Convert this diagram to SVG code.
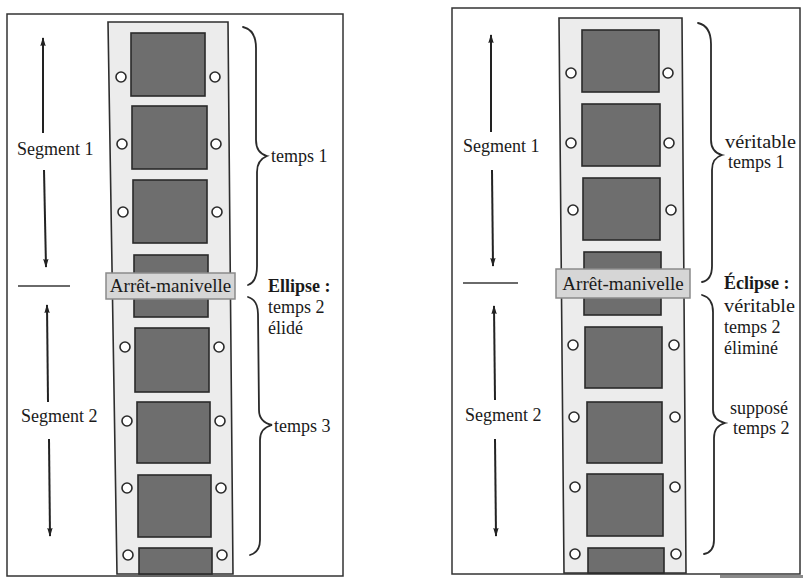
<svg xmlns="http://www.w3.org/2000/svg" width="803" height="578" viewBox="0 0 803 578">
<defs>
<style>
.panel{fill:#fff;stroke:#333;stroke-width:1.5}
.strip{fill:#ececec;stroke:#2e2e2e;stroke-width:1.6}
.frame{fill:#6e6e6e;stroke:#2a2a2a;stroke-width:1.6}
.hole{fill:#fff;stroke:#2a2a2a;stroke-width:1.6}
.lbl{fill:#d6d6d6;stroke:#8a8a8a;stroke-width:1.5}
.brace{fill:none;stroke:#2a2a2a;stroke-width:1.8;stroke-linecap:round}
.arr{fill:none;stroke:#222;stroke-width:2}
.dash{stroke:#6a6a6a;stroke-width:2}
text{font-family:"Liberation Serif","Times New Roman",serif;fill:#1a1a1a;font-size:18px}
.b{font-weight:bold}
.lt{font-size:19px;text-anchor:middle}
</style>
<marker id="ah" viewBox="0 0 10 10" refX="9" refY="5" markerWidth="9" markerHeight="9" orient="auto" markerUnits="userSpaceOnUse">
<path d="M0,2 Q5,3.5 10,5 Q5,6.5 0,8 Q2,5 0,2 Z" fill="#222"/>
</marker>
</defs>
<rect width="803" height="578" fill="#fff"/>

<!-- LEFT PANEL -->
<g id="left-panel">
<rect class="panel" x="7" y="14" width="336" height="562"/>
</g>
<g id="left-strip">
<polygon class="strip" points="108,22 228,22 233,574 117,574"/>
<rect class="frame" x="131" y="33" width="74" height="63"/>
<rect class="frame" x="132" y="106" width="75" height="63"/>
<rect class="frame" x="133" y="180" width="74" height="63"/>
<rect class="frame" x="134" y="255" width="74" height="62"/>
<rect class="frame" x="135" y="328" width="74" height="64"/>
<rect class="frame" x="137" y="402" width="73" height="61"/>
<rect class="frame" x="138" y="475" width="73" height="62"/>
<rect class="frame" x="139" y="548" width="73" height="26"/>
<circle class="hole" cx="121" cy="77" r="5"/><circle class="hole" cx="215" cy="77" r="5"/>
<circle class="hole" cx="122" cy="144" r="5"/><circle class="hole" cx="216" cy="144" r="5"/>
<circle class="hole" cx="123" cy="212" r="5"/><circle class="hole" cx="217" cy="212" r="5"/>
<circle class="hole" cx="125" cy="347" r="5"/><circle class="hole" cx="219" cy="347" r="5"/>
<circle class="hole" cx="127" cy="421" r="5"/><circle class="hole" cx="220" cy="421" r="5"/>
<circle class="hole" cx="127" cy="488" r="5"/><circle class="hole" cx="221" cy="488" r="5"/>
<circle class="hole" cx="128" cy="555" r="5"/><circle class="hole" cx="222" cy="555" r="5"/>
</g>
<g id="left-label">
<rect class="lbl" x="106" y="273" width="129" height="26"/>
<text class="lt" x="170.5" y="292">Arrêt-manivelle</text>
</g>

<!-- RIGHT PANEL -->
<g id="right-panel">
<rect class="panel" x="452" y="8" width="348" height="566"/>
<rect x="720" y="575" width="83" height="3" fill="#8a8a8a"/>
</g>
<g id="right-strip">
<polygon class="strip" points="559,18 682,18 686,573 564,573"/>
<rect class="frame" x="582" y="30" width="77" height="62"/>
<rect class="frame" x="582" y="104" width="78" height="62"/>
<rect class="frame" x="583" y="178" width="77" height="62"/>
<rect class="frame" x="584" y="252" width="77" height="63"/>
<rect class="frame" x="585" y="327" width="77" height="61"/>
<rect class="frame" x="587" y="402" width="75" height="61"/>
<rect class="frame" x="587" y="474" width="76" height="62"/>
<rect class="frame" x="588" y="548" width="76" height="25"/>
<circle class="hole" cx="571" cy="73" r="5"/><circle class="hole" cx="668" cy="73" r="5"/>
<circle class="hole" cx="571" cy="143" r="5"/><circle class="hole" cx="669" cy="143" r="5"/>
<circle class="hole" cx="573" cy="210" r="5"/><circle class="hole" cx="671" cy="210" r="5"/>
<circle class="hole" cx="573" cy="345" r="5"/><circle class="hole" cx="674" cy="345" r="5"/>
<circle class="hole" cx="574" cy="417" r="5"/><circle class="hole" cx="675" cy="417" r="5"/>
<circle class="hole" cx="575" cy="487" r="5"/><circle class="hole" cx="675" cy="487" r="5"/>
<circle class="hole" cx="575" cy="554" r="5"/><circle class="hole" cx="676" cy="554" r="5"/>
</g>
<g id="right-label">
<rect class="lbl" x="556" y="269" width="134" height="29"/>
<text class="lt" x="623" y="290">Arrêt-manivelle</text>
</g>

<!-- CONNECTORS: arrows, dashes, braces -->
<g id="connectors">
<line class="arr" x1="43" y1="133" x2="43" y2="38" marker-end="url(#ah)"/>
<line class="arr" x1="44" y1="170" x2="46" y2="267" marker-end="url(#ah)"/>
<line class="dash" x1="18" y1="286" x2="70" y2="286"/>
<line class="arr" x1="48" y1="402" x2="47" y2="305" marker-end="url(#ah)"/>
<line class="arr" x1="49" y1="439" x2="50" y2="536" marker-end="url(#ah)"/>

<line class="arr" x1="491" y1="132" x2="491" y2="35" marker-end="url(#ah)"/>
<line class="arr" x1="492" y1="170" x2="493" y2="266" marker-end="url(#ah)"/>
<line class="dash" x1="463" y1="283" x2="518" y2="283"/>
<line class="arr" x1="495" y1="400" x2="494" y2="306" marker-end="url(#ah)"/>
<line class="arr" x1="495" y1="439" x2="496" y2="536" marker-end="url(#ah)"/>

<path class="brace" d="M243,27 Q256,30 256,48 L256,140 Q256,153 267,156 Q257,160 257,172 L257,266 Q257,282 248,285"/>
<path class="brace" d="M248,297 Q258,300 258,314 L259,410 Q259,422 272,425 Q260,428 260,440 L260,540 Q260,552 250,555"/>
<path class="brace" d="M698,23 Q711,26 711,44 L711,140 Q711,152 722,155 Q712,158 712,170 L712,266 Q712,280 702,282"/>
<path class="brace" d="M702,295 Q713,298 713,312 L713,410 Q713,420 725,423 Q714,426 714,438 L714,540 Q714,552 704,554"/>
</g>

<!-- TEXTS -->
<g id="left-texts">
<text x="17" y="155">Segment 1</text>
<text x="21" y="422">Segment 2</text>
<text x="271" y="162">temps 1</text>
<text class="b" x="268" y="292">Ellipse :</text>
<text x="268" y="313">temps 2</text>
<text x="268" y="334">élidé</text>
<text x="274" y="432">temps 3</text>
</g>
<g id="right-texts">
<text x="463" y="152">Segment 1</text>
<text x="465" y="421">Segment 2</text>
<text x="725" y="148" textLength="71" lengthAdjust="spacingAndGlyphs">véritable</text>
<text x="728" y="168">temps 1</text>
<text class="b" x="724" y="289">Éclipse :</text>
<text x="724" y="312" textLength="71" lengthAdjust="spacingAndGlyphs">véritable</text>
<text x="724" y="333">temps 2</text>
<text x="724" y="354">éliminé</text>
<text x="730" y="414">supposé</text>
<text x="733" y="434">temps 2</text>
</g>
</svg>
